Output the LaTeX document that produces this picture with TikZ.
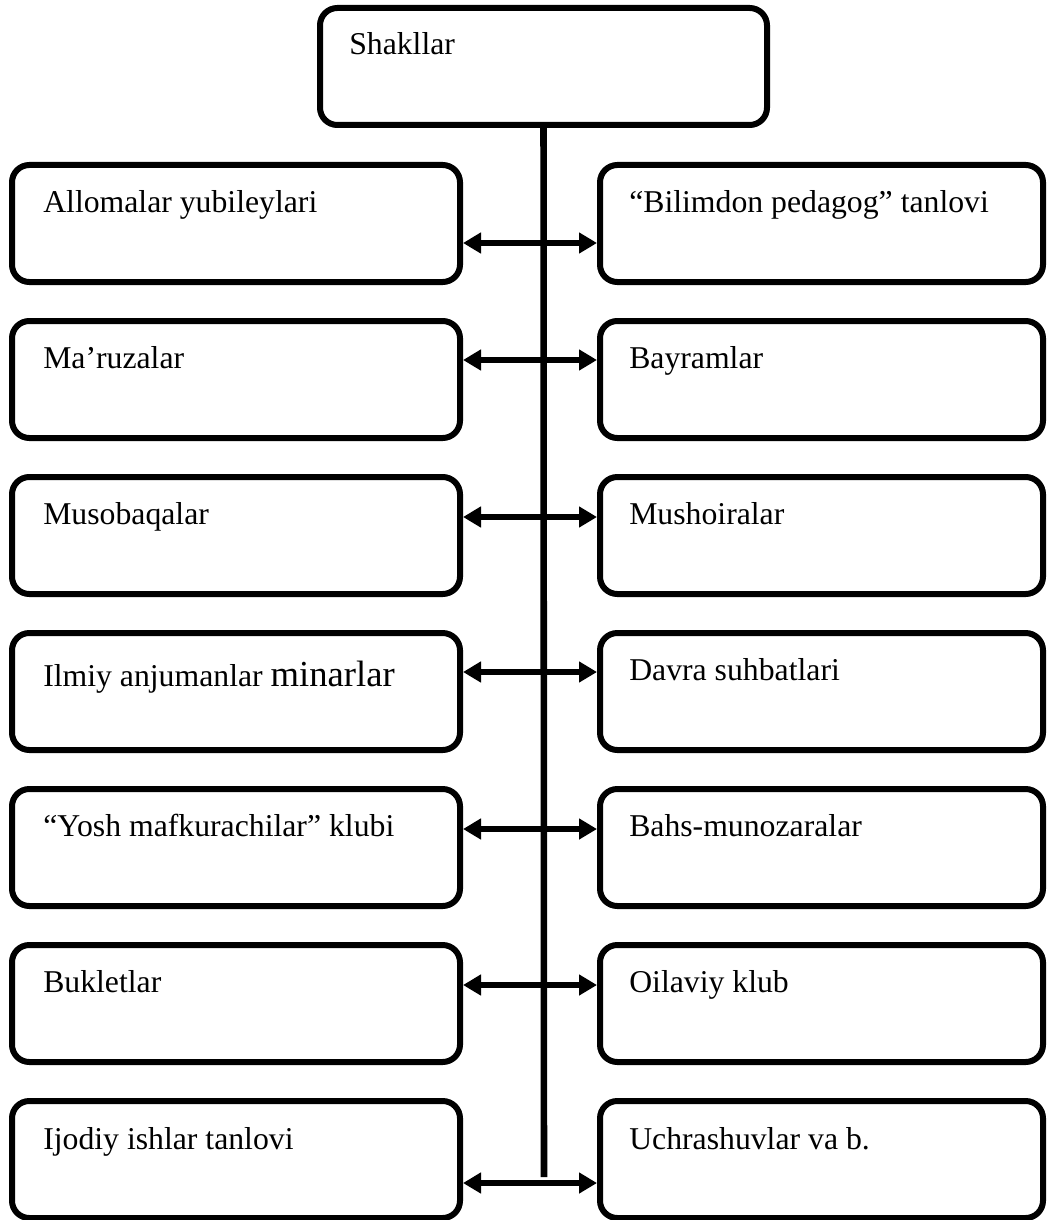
\documentclass[tikz,border=0pt]{standalone}
\usepackage{fontspec}
\setmainfont{Liberation Serif}
\newfontfamily\bigserif{Liberation Serif}
\usepackage{tikz}
\usetikzlibrary{arrows.meta}

\tikzset{
  box/.style={draw, line width=4.5pt, rounded corners=13pt, minimum height=87.75pt, inner sep=0pt},
  leftbox/.style={box, minimum width=336pt},
  rightbox/.style={box, minimum width=332.25pt},
  boxtext/.style={anchor=base west, inner sep=0.75pt, font=\fontsize{23.8pt}{28pt}\selectfont},
  link/.style={line width=4.9pt, {Triangle[length=13.5pt,width=15pt]}-{Triangle[length=13.5pt,width=15pt]}}
}

\begin{document}
\begin{tikzpicture}[x=0.75pt,y=0.75pt,yscale=-1,xscale=1]
\useasboundingbox (0,0) rectangle (1046,1220);

%Shape: Rounded Rect [top]
\node [box, minimum width=335.25pt] (shakl) at (543.5,66.5) {};
%Straight Lines [trunk]
\coordinate (trunkend) at (544,1177);
\draw [line width=4.9pt] (shakl.south) -- (trunkend);

%Shape: Rounded Rect [left column]
\node [leftbox] (allomalar) at (236,223.5) {};
\node [leftbox] (maruzalar) at (236,379.5) {};
\node [leftbox] (musobaqalar) at (236,535.5) {};
\node [leftbox] (ilmiy) at (236,691.5) {};
\node [leftbox] (yosh) at (236,847.5) {};
\node [leftbox] (buklet) at (236,1003.5) {};
\node [leftbox] (ijodiy) at (236,1159.5) {};

%Shape: Rounded Rect [right column]
\node [rightbox] (bilimdon) at (821.5,223.5) {};
\node [rightbox] (bayram) at (821.5,379.5) {};
\node [rightbox] (mushoira) at (821.5,535.5) {};
\node [rightbox] (davra) at (821.5,691.5) {};
\node [rightbox] (bahs) at (821.5,847.5) {};
\node [rightbox] (oilaviy) at (821.5,1003.5) {};
\node [rightbox] (uchrashuv) at (821.5,1159.5) {};

%Straight Lines [arrow heights]
\coordinate (a1) at (544,243);
\coordinate (a2) at (544,360);
\coordinate (a3) at (544,517);
\coordinate (a4) at (544,672);
\coordinate (a5) at (544,829);
\coordinate (a6) at (544,985);
\coordinate (a7) at (544,1183);

%Straight Lines [double arrows]
\draw [link] (allomalar.east |- a1) -- (bilimdon.west |- a1);
\draw [link] (maruzalar.east |- a2) -- (bayram.west |- a2);
\draw [link] (musobaqalar.east |- a3) -- (mushoira.west |- a3);
\draw [link] (ilmiy.east |- a4) -- (davra.west |- a4);
\draw [link] (yosh.east |- a5) -- (bahs.west |- a5);
\draw [link] (buklet.east |- a6) -- (oilaviy.west |- a6);
\draw [link] (ijodiy.east |- a7) -- (uchrashuv.west |- a7);

% Text Node
\node [boxtext] (tshakl) at (348,55) {Shakllar};
% Text Node
\node [boxtext] (tallomalar) at (42,212) {Allomalar yubileylari};
% Text Node
\node [boxtext] (tmaruzalar) at (42,368) {Ma’ruzalar};
% Text Node
\node [boxtext] (tmusobaqalar) at (42,524) {Musobaqalar};
% Text Node
\node [boxtext] (tilmiy) at (42,686) {Ilmiy anjumanlar {\bigserif\fontsize{27.5pt}{30pt}\selectfont minarlar}};
% Text Node
\node [boxtext] (tyosh) at (42,836) {“Yosh mafkurachilar” klubi};
% Text Node
\node [boxtext] (tbuklet) at (42,992) {Bukletlar};
% Text Node
\node [boxtext] (tijodiy) at (42,1149) {Ijodiy ishlar tanlovi};
% Text Node
\node [boxtext] (tbilimdon) at (628,212) {“Bilimdon pedagog” tanlovi};
% Text Node
\node [boxtext] (tbayram) at (628,368) {Bayramlar};
% Text Node
\node [boxtext] (tmushoira) at (628,524) {Mushoiralar};
% Text Node
\node [boxtext] (tdavra) at (628,680) {Davra suhbatlari};
% Text Node
\node [boxtext] (tbahs) at (628,836) {Bahs-munozaralar};
% Text Node
\node [boxtext] (toilaviy) at (628,992) {Oilaviy klub};
% Text Node
\node [boxtext] (tuchrashuv) at (628,1149) {Uchrashuvlar va b.};

\end{tikzpicture}
\end{document}
